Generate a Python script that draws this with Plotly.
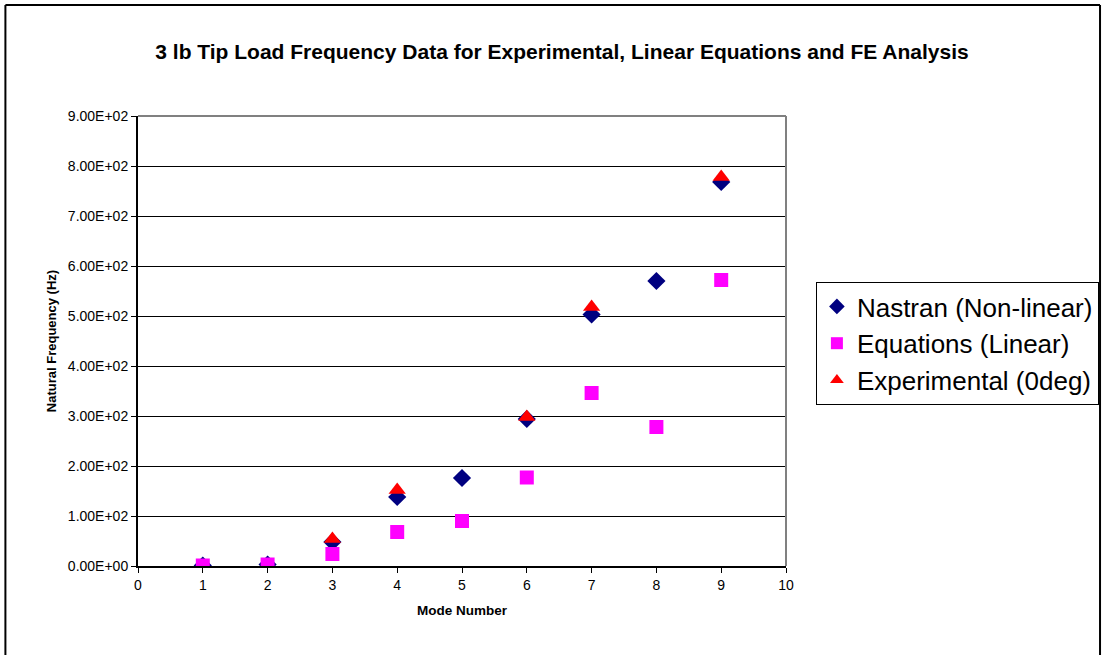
import plotly.graph_objects as go

modes = [1, 2, 3, 4, 5, 6, 7, 8, 9]
nastran = [1, 3, 48, 138, 176, 294, 503, 570, 768]
equations = [1, 3, 24, 68, 90, 177, 346, 278, 572]
exp_modes = [3, 4, 6, 7, 9]
experimental = [54, 152, 298, 518, 778]

y_tickvals = [0, 100, 200, 300, 400, 500, 600, 700, 800, 900]
y_ticktext = ["0.00E+00", "1.00E+02", "2.00E+02", "3.00E+02", "4.00E+02",
              "5.00E+02", "6.00E+02", "7.00E+02", "8.00E+02", "9.00E+02"]
x_tickvals = [0, 1, 2, 3, 4, 5, 6, 7, 8, 9, 10]

fig = go.Figure()
fig.add_trace(go.Scatter(x=modes, y=nastran, mode="markers", name="Nastran (Non-linear)",
                         legendgroup="a",
                         marker=dict(symbol="diamond", size=14, color="#000080")))
fig.add_trace(go.Scatter(x=modes, y=equations, mode="markers", name="Equations (Linear)",
                         legendgroup="b",
                         marker=dict(symbol="square", size=14, color="#FF00FF")))
fig.add_trace(go.Scatter(x=exp_modes, y=experimental, mode="markers", name="Experimental (0deg)",
                         legendgroup="c",
                         marker=dict(symbol="triangle-up", size=15, color="#FF0000")))

W, H = 1111, 655
L, R, T, B = 138, 1111 - 788, 116, 655 - 566
pw, ph = W - L - R, H - T - B

def px(x):
    return (x - L) / pw

def py(y):
    return (H - B - y) / ph

shapes = [
    # outer frame
    dict(type="line", xref="paper", yref="paper", x0=px(5), x1=px(5), y0=py(700), y1=py(5),
         line=dict(color="black", width=2)),
    dict(type="line", xref="paper", yref="paper", x0=px(5), x1=px(1103), y0=py(5), y1=py(5),
         line=dict(color="black", width=2)),
    dict(type="line", xref="paper", yref="paper", x0=px(1103), x1=px(1103), y0=py(5), y1=py(700),
         line=dict(color="black", width=2)),
    # plot area border (gray top/right)
    dict(type="line", xref="paper", yref="paper", x0=0, x1=1, y0=1, y1=1,
         line=dict(color="#808080", width=2)),
    dict(type="line", xref="paper", yref="paper", x0=1, x1=1, y0=0, y1=1,
         line=dict(color="#808080", width=2)),
]

fig.update_layout(
    width=W, height=H,
    margin=dict(l=L, r=R, t=T, b=B, pad=0),
    paper_bgcolor="white", plot_bgcolor="white",
    font=dict(family="Arial, Liberation Sans, sans-serif", color="black"),
    title=dict(text="<b>3 lb Tip Load Frequency Data for Experimental, Linear Equations and FE Analysis</b>",
               xref="container", x=562 / W, xanchor="center",
               yref="container", y=1 - 52 / H, yanchor="middle",
               font=dict(size=21, color="black")),
    showlegend=True,
    legend=dict(x=px(818), y=py(282), xanchor="left", yanchor="top",
                bordercolor="black", borderwidth=1, bgcolor="white",
                font=dict(size=26, color="black"), itemsizing="constant",
                tracegroupgap=0),
    shapes=shapes,
    xaxis=dict(range=[0, 10], tickvals=x_tickvals, ticks="outside", ticklen=5,
               tickcolor="black", showline=True, linecolor="black", linewidth=2,
               showgrid=False, zeroline=False, tickfont=dict(size=14),
               title=dict(text="<b>Mode Number</b>", font=dict(size=13.5), standoff=14)),
    yaxis=dict(range=[0, 900], tickvals=y_tickvals, ticktext=y_ticktext, ticks="outside",
               ticklen=5, tickcolor="black", showline=True, linecolor="black", linewidth=2,
               showgrid=True, gridcolor="black", gridwidth=1, zeroline=False,
               tickfont=dict(size=14),
               title=dict(text="<b>Natural Frequency (Hz)</b>", font=dict(size=13), standoff=8)),
)

fig.write_html("out.html", config={"displayModeBar": False},
               post_script="document.body.style.margin='0';")
